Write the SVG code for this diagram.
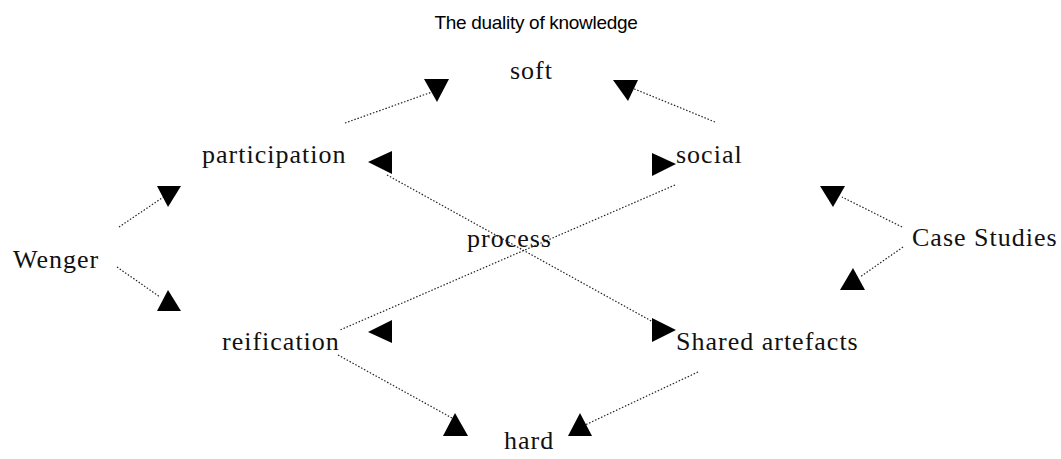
<svg xmlns="http://www.w3.org/2000/svg" width="1061" height="459" viewBox="0 0 1061 459">
<style>
.t{font-family:"Liberation Serif","Times New Roman",serif;font-size:26px;fill:#111;letter-spacing:1px;}
.title{font-family:"Liberation Sans",Arial,sans-serif;font-size:19px;fill:#000;letter-spacing:-0.3px;}
.c line{stroke:#222;stroke-width:1.2;stroke-dasharray:1.5 1.8;}
.h{fill:#000;}
</style>
<rect width="1061" height="459" fill="#fff"/>
<text class="title" x="536" y="29" text-anchor="middle">The duality of knowledge</text>
<g id="connectors" class="c">
<line x1="345" y1="123" x2="432" y2="92"/>
<line x1="715" y1="122" x2="632" y2="88"/>
<line x1="119" y1="227" x2="165" y2="196"/>
<line x1="117" y1="267" x2="160" y2="297"/>
<line x1="902" y1="227" x2="842" y2="197"/>
<line x1="903" y1="247" x2="860" y2="277"/>
<line x1="387" y1="175" x2="655" y2="323"/>
<line x1="675" y1="185" x2="340" y2="330"/>
<line x1="338" y1="355" x2="452" y2="418"/>
<line x1="698" y1="372" x2="585" y2="425"/>
<polygon class="h" points="424,79 449,79 437,102"/>
<polygon class="h" points="613,80 638,80 628,101"/>
<polygon class="h" points="368,162 392,151 392,174"/>
<polygon class="h" points="652,318 652,342 676,330"/>
<polygon class="h" points="652,153 652,176 676,164"/>
<polygon class="h" points="368,332 392,320 392,343"/>
<polygon class="h" points="157,186 181,186 168,207"/>
<polygon class="h" points="157,311 181,311 168,290"/>
<polygon class="h" points="820,186 845,186 833,207"/>
<polygon class="h" points="840,290 865,290 853,268"/>
<polygon class="h" points="443,436 468,436 455,413"/>
<polygon class="h" points="568,436 592,436 580,413"/>
</g>
<g id="soft"><text class="t" x="510" y="79">soft</text></g>
<g id="participation"><text class="t" x="202" y="163">participation</text></g>
<g id="social"><text class="t" x="676" y="163">social</text></g>
<g id="process"><text class="t" x="467" y="247">process</text></g>
<g id="wenger"><text class="t" x="13" y="268">Wenger</text></g>
<g id="case"><text class="t" x="912" y="246">Case Studies</text></g>
<g id="reification"><text class="t" x="222" y="350">reification</text></g>
<g id="shared"><text class="t" x="676" y="350">Shared artefacts</text></g>
<g id="hard"><text class="t" x="504" y="449">hard</text></g>
</svg>
